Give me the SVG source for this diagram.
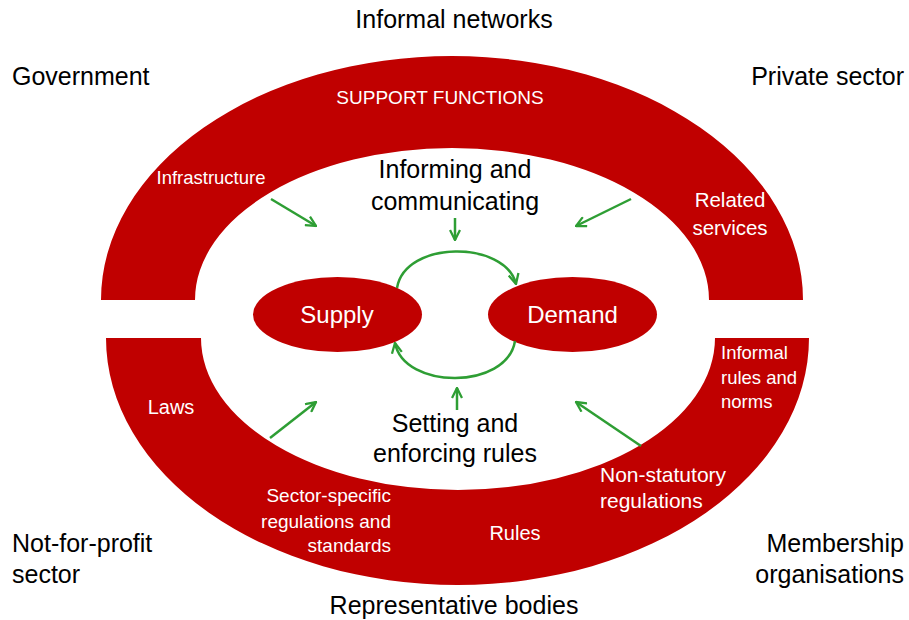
<svg xmlns="http://www.w3.org/2000/svg" width="909" height="620" viewBox="0 0 909 620">
<style>
  text { font-family: "Liberation Sans", Arial, sans-serif; }
  .blk { fill: #000000; font-size: 25px; }
  .wht { fill: #ffffff; }
  .band { fill: #C00000; }
  .conn { fill: none; stroke: #2E9E34; stroke-width: 2.5; }
</style>
<defs>
  <marker id="arr" viewBox="0 0 12 12" refX="11" refY="6" markerWidth="12" markerHeight="12" markerUnits="userSpaceOnUse" orient="auto">
    <path d="M1,1 L11,6 L1,11" fill="none" stroke="#2E9E34" stroke-width="2.3" stroke-linejoin="miter"/>
  </marker>
</defs>
<rect width="909" height="620" fill="#ffffff"/>

<g id="support-functions">
  <path class="band" d="M101 300 A351 244 0 0 1 803 300 L709 300 A257 152 0 0 0 195 300 Z"/>
  <text class="wht" x="440" y="104" font-size="19" text-anchor="middle">SUPPORT FUNCTIONS</text>
  <text class="wht" x="211" y="184" font-size="18.5" text-anchor="middle">Infrastructure</text>
  <text class="wht" x="730" y="207" font-size="20.5" text-anchor="middle">Related</text>
  <text class="wht" x="730" y="235" font-size="20.5" text-anchor="middle">services</text>
</g>

<g id="rules">
  <path class="band" d="M106 338 L201 338 A257 152 0 0 0 715 338 L809 338 A351.5 247 0 0 1 106 338 Z"/>
  <text class="wht" x="171" y="414" font-size="20" text-anchor="middle">Laws</text>
  <text class="wht" x="391" y="502" font-size="19" text-anchor="end">Sector-specific</text>
  <text class="wht" x="391" y="528" font-size="19" text-anchor="end">regulations and</text>
  <text class="wht" x="391" y="552" font-size="19" text-anchor="end">standards</text>
  <text class="wht" x="515" y="540" font-size="20" text-anchor="middle">Rules</text>
  <text class="wht" x="600" y="482" font-size="21">Non-statutory</text>
  <text class="wht" x="600" y="508" font-size="21">regulations</text>
  <text class="wht" x="721" y="359" font-size="18.5">Informal</text>
  <text class="wht" x="721" y="384" font-size="18.5">rules and</text>
  <text class="wht" x="721" y="408" font-size="18.5">norms</text>
</g>

<g id="supply">
  <ellipse class="band" cx="337.5" cy="314.5" rx="84.5" ry="37.5"/>
  <text class="wht" x="337" y="323" font-size="24" text-anchor="middle">Supply</text>
</g>

<g id="demand">
  <ellipse class="band" cx="572.5" cy="314.5" rx="84.5" ry="37.5"/>
  <text class="wht" x="572.5" y="323" font-size="24" text-anchor="middle">Demand</text>
</g>

<g id="informing">
  <text class="blk" x="455" y="178" text-anchor="middle">Informing and</text>
  <text class="blk" x="455" y="210" text-anchor="middle">communicating</text>
</g>

<g id="setting">
  <text class="blk" x="455" y="432" text-anchor="middle">Setting and</text>
  <text class="blk" x="455" y="462" text-anchor="middle">enforcing rules</text>
</g>

<g id="informal-networks">
  <text class="blk" x="454" y="28" text-anchor="middle">Informal networks</text>
</g>
<g id="government">
  <text class="blk" x="12" y="85">Government</text>
</g>
<g id="private-sector">
  <text class="blk" x="904" y="85" text-anchor="end">Private sector</text>
</g>
<g id="not-for-profit">
  <text class="blk" x="12" y="552">Not-for-profit</text>
  <text class="blk" x="12" y="583">sector</text>
</g>
<g id="membership">
  <text class="blk" x="904" y="552" text-anchor="end">Membership</text>
  <text class="blk" x="904" y="583" text-anchor="end">organisations</text>
</g>
<g id="representative-bodies">
  <text class="blk" x="454" y="614" text-anchor="middle">Representative bodies</text>
</g>

<g id="connectors">
  <path class="conn" d="M397 288 C405 240 505 240 516 284" marker-end="url(#arr)"/>
  <path class="conn" d="M515 341 C507 390 404 390 395 343" marker-end="url(#arr)"/>
  <path class="conn" d="M455 218 L455 240" marker-end="url(#arr)"/>
  <path class="conn" d="M457 410 L457 388" marker-end="url(#arr)"/>
  <path class="conn" d="M271 199 L316 226" marker-end="url(#arr)"/>
  <path class="conn" d="M631 199 L576 226" marker-end="url(#arr)"/>
  <path class="conn" d="M270 438 L316 402" marker-end="url(#arr)"/>
  <path class="conn" d="M641 446 L576 402" marker-end="url(#arr)"/>
</g>
</svg>
